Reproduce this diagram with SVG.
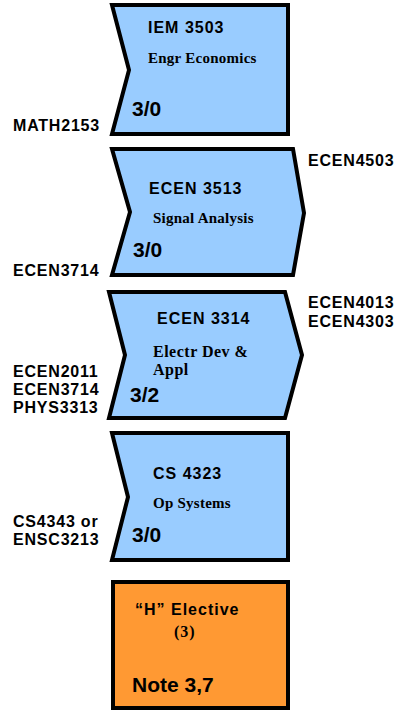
<svg xmlns="http://www.w3.org/2000/svg" width="404" height="712" viewBox="0 0 404 712">
<style>
.box{fill:#99CCFF;stroke:#000;stroke-width:4;stroke-linejoin:miter}
.obox{fill:#FF9933;stroke:#000;stroke-width:4}
.h{font-family:"Liberation Sans",Arial,sans-serif;font-weight:bold;font-size:16px;letter-spacing:1px;fill:#000}
.t{font-family:"Liberation Serif","Times New Roman",serif;font-weight:bold;font-size:15px;letter-spacing:0.25px;fill:#000}
.c{font-family:"Liberation Sans",Arial,sans-serif;font-weight:bold;font-size:21px;fill:#000}
.l{font-family:"Liberation Sans",Arial,sans-serif;font-weight:bold;font-size:16px;letter-spacing:0.8px;fill:#000}
</style>
<rect width="404" height="712" fill="#fff"/>
<g id="connectors"/>
<g id="iem3503">
<polygon class="box" points="112,5 288,5 288,134 112,134 129,70"/>
<text class="h" x="148" y="33">IEM 3503</text>
<text class="t" x="148" y="63">Engr Economics</text>
<text class="c" x="132" y="116">3/0</text>
</g>
<g id="ecen3513">
<polygon class="box" points="112,149 293,149 304,213 293,275 112,275 130,212"/>
<text class="h" x="149" y="194">ECEN 3513</text>
<text class="t" x="153" y="223">Signal Analysis</text>
<text class="c" x="133" y="257">3/0</text>
</g>
<g id="ecen3314">
<polygon class="box" points="109,292 285,292 302,355 285,418 109,418 125,355"/>
<text class="h" x="157" y="324">ECEN 3314</text>
<text class="t" x="153" y="357" style="font-size:16px;letter-spacing:0.5px">Electr Dev &amp;</text>
<text class="t" x="153" y="375" style="font-size:16px;letter-spacing:0.5px">Appl</text>
<text class="c" x="130" y="402">3/2</text>
</g>
<g id="cs4323">
<polygon class="box" points="112,433 288,433 288,560 112,560 128,497"/>
<text class="h" x="153" y="479">CS 4323</text>
<text class="t" x="153" y="508">Op Systems</text>
<text class="c" x="132" y="542">3/0</text>
</g>
<g id="h-elective">
<rect class="obox" x="113" y="582" width="175" height="126"/>
<text class="h" x="135" y="615">“H” Elective</text>
<text class="t" x="174" y="637" style="font-size:16px;letter-spacing:1px">(3)</text>
<text class="c" x="132" y="692">Note 3,7</text>
</g>
<g id="labels">
<text class="l" x="13" y="131">MATH2153</text>
<text class="l" x="13" y="276">ECEN3714</text>
<text class="l" x="13" y="377">ECEN2011</text>
<text class="l" x="13" y="395">ECEN3714</text>
<text class="l" x="13" y="413">PHYS3313</text>
<text class="l" x="13" y="527">CS4343 or</text>
<text class="l" x="13" y="545">ENSC3213</text>
<text class="l" x="308" y="166">ECEN4503</text>
<text class="l" x="308" y="308">ECEN4013</text>
<text class="l" x="308" y="327">ECEN4303</text>
</g>
</svg>
